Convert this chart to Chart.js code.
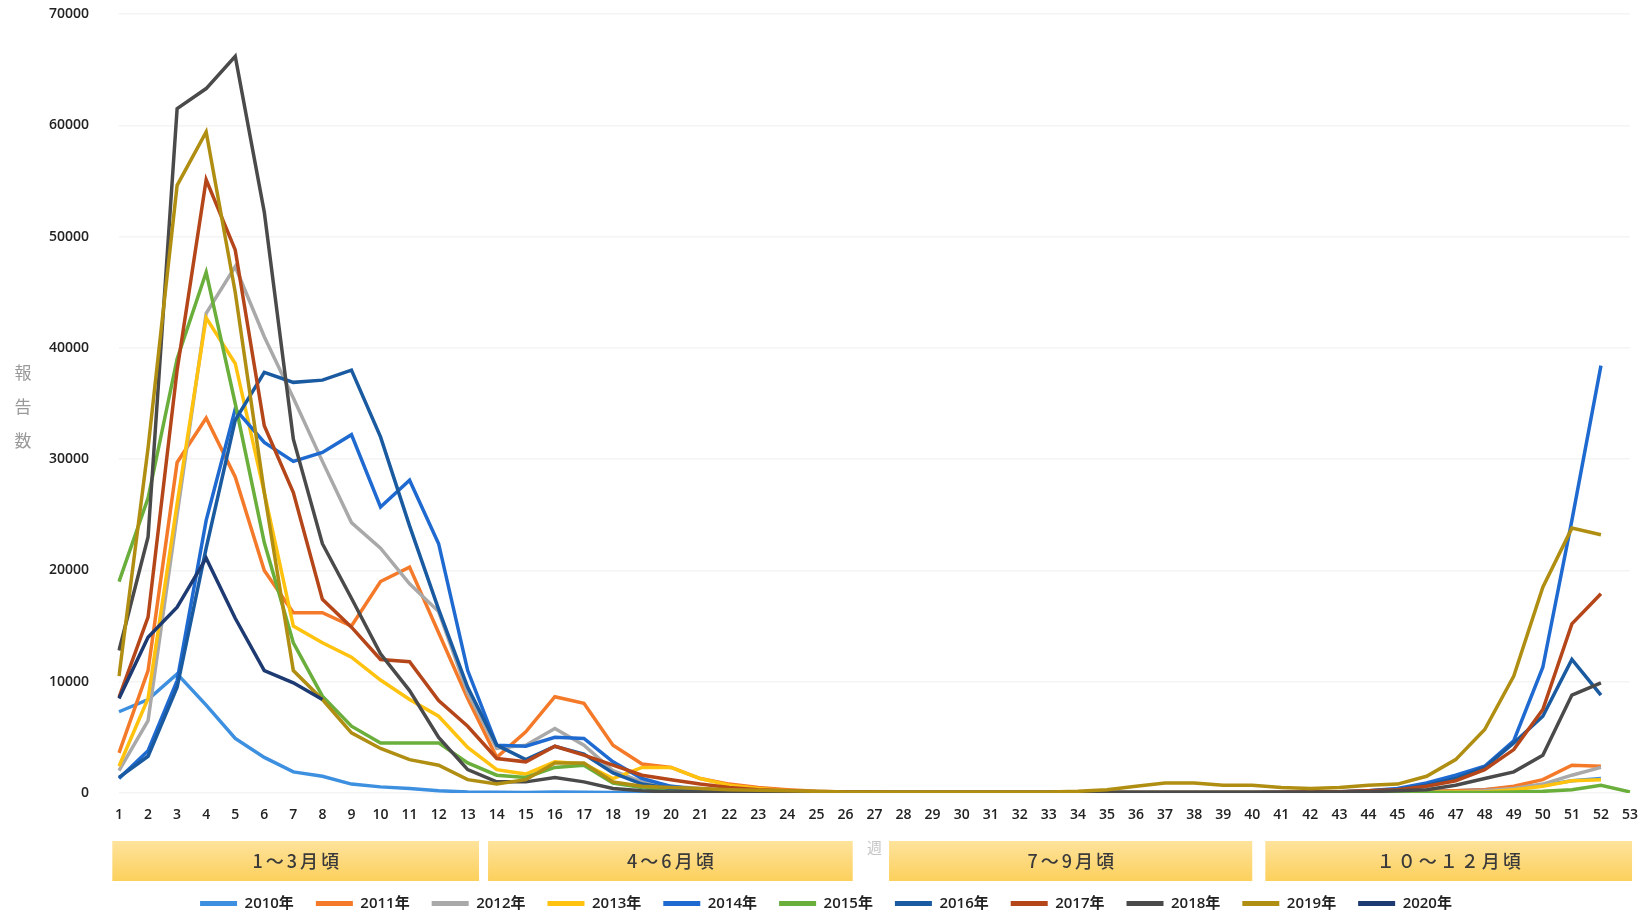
<!DOCTYPE html>
<html><head><meta charset="utf-8">
<script src="https://cdn.jsdelivr.net/npm/chart.js@4/dist/chart.umd.min.js"></script>
<style>html,body{margin:0;padding:0;background:#fff;}#wrap{width:1647px;height:921px;}</style>
</head><body><div id="wrap"><canvas id="c" width="1647" height="921"></canvas></div>
<script>
const weeks = Array.from({length:53},(_,i)=>String(i+1));
const yTicks = [0,10000,20000,30000,40000,50000,60000,70000];
const seriesNames = ['2010年','2011年','2012年','2013年','2014年','2015年','2016年','2017年','2018年','2019年','2020年'];
const quarterLabels = ['1～3月頃','4～6月頃','7～9月頃','１０～１２月頃'];

const y2010 = [7300,8400,10700,7900,4900,3200,1900,1500,800,550,400,200,100,60,50,80,60,40,30,20,20,15,15,10,10,10,10,10,10,10,10,10,10,10,10,10,10,10,10,10,10,10,15,20,50,100,200,300,500,700,1100,1300,null];
const y2011 = [3600,11000,29700,33700,28400,20000,16200,16200,15000,19000,20300,14400,8500,3200,5500,8650,8060,4300,2600,2300,1300,800,500,300,150,100,80,60,50,50,50,50,50,50,50,50,50,50,50,50,50,50,60,80,100,150,200,300,600,1200,2500,2400,null];
const y2012 = [2000,6500,25000,43100,47300,41000,35500,29800,24300,22000,18800,16300,9000,4000,4300,5800,4300,2000,1000,600,400,250,150,100,80,60,50,50,50,50,50,50,50,50,50,50,50,50,50,50,50,50,50,60,80,100,100,200,400,800,1600,2300,null];
const y2013 = [2400,8500,26000,42700,38600,27000,15000,13500,12200,10150,8400,6900,4100,2100,1700,2800,2600,1300,2300,2300,1300,700,400,200,100,80,60,50,50,50,50,50,50,50,50,50,50,50,50,50,50,50,50,50,60,80,100,100,300,600,1100,1200,null];
const y2014 = [1300,3800,10100,24500,34500,31500,29800,30600,32200,25700,28100,22400,11000,4300,4200,5000,4900,2800,1300,600,300,200,150,100,80,60,50,50,50,50,50,50,50,50,50,50,50,50,50,50,60,80,100,200,400,900,1600,2400,4700,11300,24500,38400,null];
const y2015 = [19000,26500,39000,46800,35000,22500,13500,8700,6000,4500,4500,4500,2700,1600,1400,2300,2500,900,500,300,200,150,100,80,60,50,40,40,40,40,40,40,40,40,40,40,40,40,40,40,40,40,40,40,40,40,40,50,80,150,300,700,100];
const y2016 = [1400,3300,9500,22000,33500,37800,36900,37100,38000,32000,24000,16500,9500,4300,3000,4200,3500,1800,800,400,200,150,100,80,60,50,50,50,50,50,50,50,50,50,50,50,50,50,50,50,60,80,120,200,300,700,1300,2300,4500,6900,12000,8800,null];
const y2017 = [8600,15800,38000,55100,48800,33000,27000,17400,14900,12000,11800,8300,6000,3100,2800,4200,3400,2500,1600,1200,800,500,300,200,100,80,60,50,50,50,50,50,50,50,50,50,50,50,50,50,60,80,120,200,300,600,1100,2100,3900,7500,15200,17900,null];
const y2018 = [12800,23000,61500,63300,66200,52200,31800,22400,17500,12500,9200,5000,2100,1000,1000,1400,1000,400,200,100,80,60,50,40,40,40,40,40,40,40,40,40,40,40,40,40,40,40,40,40,50,60,80,120,200,300,700,1300,1900,3400,8800,9900,null];
const y2019 = [10500,31000,54600,59400,45000,27000,11000,8400,5400,4000,3000,2500,1200,800,1200,2700,2700,1000,600,500,400,300,250,200,150,100,100,100,100,100,100,100,100,150,300,600,900,900,700,700,500,400,500,700,800,1500,3000,5700,10500,18500,23800,23200,null];
const y2020 = [8500,14000,16700,21100,15700,11000,9900,8400,null,null,null,null,null,null,null,null,null,null,null,null,null,null,null,null,null,null,null,null,null,null,null,null,null,null,null,null,null,null,null,null,null,null,null,null,null,null,null,null,null,null,null,null,null];

const seriesValues = [y2010,y2011,y2012,y2013,y2014,y2015,y2016,y2017,y2018,y2019,y2020];
const seriesColors = ['#3d8fe0','#f47a2a','#a9a9a9','#ffc20e','#1f6ad0','#6aae3c','#1a5aa0','#b5461a','#4a4a4a','#b08e12','#1d3b72'];
const quarterSpans = [[-0.23,12.39],[12.7,25.25],[26.5,39.0],[39.45,52.07]];

const FONT = '"Open Sans","Noto Sans CJK JP",sans-serif';

const extras = {
  id:'extras',
  afterLayout(chart){
    const l = chart.legend;
    if (l && l.lineWidths) l.lineWidths = l.lineWidths.map(w=>w-22);
  },
  afterDraw(chart){
    const ctx = chart.ctx, xs = chart.scales.x;
    ctx.save();
    quarterSpans.forEach((sp,i)=>{
      const x0 = xs.getPixelForValue(sp[0]), x1 = xs.getPixelForValue(sp[1]);
      const top = 841, bot = 881;
      const g = ctx.createLinearGradient(0,top,0,bot);
      g.addColorStop(0,'#fee39c'); g.addColorStop(1,'#fcd05c');
      ctx.fillStyle = g;
      ctx.fillRect(x0,top,x1-x0,bot-top);
      ctx.fillStyle = '#3a3a3a';
      ctx.font = '500 18px "Noto Sans CJK JP",sans-serif';
      ctx.textAlign='center'; ctx.textBaseline='middle';
      ctx.letterSpacing = '3px';
      ctx.fillText(quarterLabels[i], (x0+x1)/2+1.5, (top+bot)/2);
    });
    ctx.letterSpacing = '0px';
    ctx.fillStyle = '#999';
    ctx.font = '17px "Noto Sans CJK JP",sans-serif';
    ctx.textAlign='center'; ctx.textBaseline='middle';
    ['報','告','数'].forEach((ch,i)=>ctx.fillText(ch, 23, 373 + i*34));
    ctx.restore();
  }
};

new Chart(document.getElementById('c'), {
  type:'line',
  data:{
    labels: weeks,
    datasets: seriesNames.map((n,i)=>({
      label:n, data:seriesValues[i], borderColor:seriesColors[i], backgroundColor:seriesColors[i],
      borderWidth:3.5, pointRadius:0, tension:0, spanGaps:false, order: seriesNames.length - i
    }))
  },
  options:{
    responsive:false, animation:false,
    layout:{padding:{top:14,right:17,left:0,bottom:0}},
    plugins:{
      tooltip:{enabled:false},
      legend:{
        position:'bottom',
        labels:{
          boxWidth:37, boxHeight:5, padding:22, color:'#222',
          font:{family:FONT, size:15, weight:'600'},
          sort:(a,b)=>a.datasetIndex-b.datasetIndex,
          generateLabels(chart){
            const items = Chart.defaults.plugins.legend.labels.generateLabels(chart);
            items.forEach(it=>{it.lineWidth=0; it.fillStyle=it.strokeStyle;});
            return items;
          }
        }
      }
    },
    scales:{
      x:{
        offset:false,
        grid:{display:false, drawTicks:true, tickLength:14},
        border:{display:false},
        ticks:{autoSkip:false, maxRotation:0, padding:0, color:'#222', font:{family:FONT,size:14,weight:'600'}},
        title:{display:true, text:'週', color:'#c4c4c4', font:{family:'"Noto Sans CJK JP"',size:15}, padding:{top:0,bottom:18}},
        afterFit(s){ s.height = 81; }
      },
      y:{
        min:0, max:70000,
        afterBuildTicks(s){ s.ticks = yTicks.map(v=>({value:v})); },
        grid:{color:'#f4f4f4', drawTicks:true, tickLength:30, tickColor:'rgba(0,0,0,0)', lineWidth:1.5},
        border:{display:false},
        ticks:{padding:0, color:'#222', font:{family:FONT,size:14,weight:'600'}, callback:v=>String(v)},
        afterFit(s){ s.width = 119; }
      }
    }
  },
  plugins:[extras]
});
</script>
</body></html>
